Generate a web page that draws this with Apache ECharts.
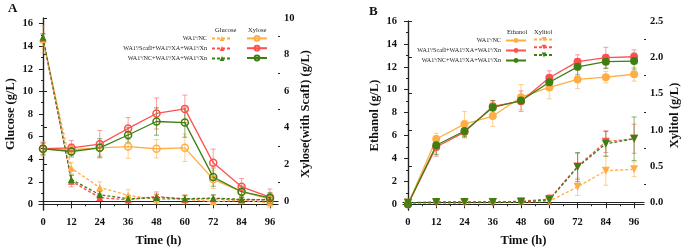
<!DOCTYPE html>
<html><head><meta charset="utf-8">
<script src="https://cdn.jsdelivr.net/npm/echarts@6/dist/echarts.min.js"></script>
<style>html,body{margin:0;padding:0;background:#fff}#c{width:685px;height:252px}</style>
</head><body><div id="c"></div>
<script>
const hours = [0,12,24,36,48,60,72,84,96];
const strains = ['WA1ˢ/NC', 'WA1ˢ/ScafI+WA1ˢ/XA+WA1ˢ/Xn', 'WA1ˢ/NC+WA1ˢ/XA+WA1ˢ/Xn'];
const xTicks = [0,12,24,36,48,60,72,84,96];
const xMinor = [6,18,30,42,54,66,78,90];
const leftTicksA = [0,2,4,6,8,10,12,14,16];
const leftMinorA = [1,3,5,7,9,11,13,15];
const rightTicksA = [0,2,4,6,8,10];
const rightMinorA = [1,3,5,7,9];
const leftTicksB = [0,2,4,6,8,10,12,14,16];
const leftMinorB = [1,3,5,7,9,11,13,15];
const rightTicksB = [0,0.5,1,1.5,2,2.5];
const rightMinorB = [0.25,0.75,1.25,1.75,2.25];

// Panel A: glucose (left axis)
const gluNC   = [14.6, 3.2, 1.5, 0.8, 0.45, 0.45, 0.25, 0.35, 0.15];
const gluScaf = [14.7, 2.05, 0.6, 0.4, 0.7, 0.45, 0.5, 0.4, 0.4];
const gluNCXA = [14.8, 2.2, 0.85, 0.5, 0.6, 0.5, 0.55, 0.45, 0.4];
const gluNCErr   = [1.2, 0.5, 0.5, 0.5, 0.4, 0.4, 0.3, 0.3, 0.4];
const gluScafErr = [0.4, 0.5, 0.3, 0.3, 0.4, 0.3, 0.3, 0.2, 0.3];
const gluNCXAErr = [0.3, 0.4, 0.3, 0.3, 0.3, 0.3, 0.3, 0.2, 0.2];
// Panel A: xylose (right axis)
const xylNC   = [2.85, 2.8, 2.9, 2.97, 2.85, 2.9, 1.18, 0.5, 0.1];
const xylScaf = [2.85, 2.9, 3.1, 3.96, 4.78, 5.03, 2.08, 0.77, 0.2];
const xylNCXA = [2.85, 2.7, 2.9, 3.6, 4.34, 4.28, 1.3, 0.5, 0.16];
const xylNCErr   = [0.4, 0.3, 0.4, 0.65, 0.5, 0.75, 0.5, 0.3, 0.3];
const xylScafErr = [0.35, 0.4, 0.75, 0.6, 0.85, 0.75, 0.75, 0.45, 0.45];
const xylNCXAErr = [0.3, 0.3, 0.5, 0.4, 0.75, 0.8, 0.5, 0.3, 0.3];
// Panel B: ethanol (left axis)
const ethNC   = [0, 5.7, 7.0, 7.7, 9.35, 10.2, 10.9, 11.1, 11.35];
const ethScaf = [0, 5.0, 6.3, 8.55, 9.0, 11.05, 12.45, 12.8, 12.88];
const ethNCXA = [0, 5.15, 6.4, 8.45, 9.05, 10.65, 12.0, 12.45, 12.5];
const ethNCErr   = [0.2, 0.5, 1.1, 0.9, 1.1, 1.0, 0.8, 0.5, 0.6];
const ethScafErr = [0.1, 0.8, 0.5, 0.5, 0.9, 0.6, 0.6, 0.9, 0.6];
const ethNCXAErr = [0.1, 0.8, 0.5, 0.6, 0.3, 0.5, 0.7, 0.6, 0.7];
// Panel B: xylitol (right axis)
const xitNC   = [0, 0, 0, 0, 0.01, 0.02, 0.22, 0.44, 0.46];
const xitScaf = [0, 0, 0, 0.01, 0.02, 0.05, 0.5, 0.84, 0.88];
const xitNCXA = [0, 0.01, 0.01, 0.01, 0.01, 0.04, 0.49, 0.81, 0.88];
const xitNCErr   = [0, 0, 0, 0, 0.03, 0.05, 0.12, 0.2, 0.1];
const xitScafErr = [0, 0, 0, 0.04, 0.04, 0.06, 0.18, 0.15, 0.2];
const xitNCXAErr = [0, 0, 0, 0.02, 0.02, 0.05, 0.2, 0.17, 0.3];

const colors = ['#FFAE45', '#FF5050', '#3D7F10'];
const errColors = ['rgba(255,174,69,0.55)', 'rgba(255,80,80,0.5)', 'rgba(61,127,16,0.55)'];
const FONT = '"Liberation Serif", "DejaVu Serif", serif';

function pair(v){ return hours.map((h,i)=>[h, v[i]]); }
function errData(v,e){ return hours.map((h,i)=>[h, v[i]-e[i], v[i]+e[i]]); }

function errSeries(v, e, ci, xi, yi){
  return {
    type:'custom', xAxisIndex:xi, yAxisIndex:yi, silent:true, z:1,
    data: errData(v,e),
    renderItem: function(params, api){
      const x = api.value(0);
      const lo = api.coord([x, api.value(1)]);
      const hi = api.coord([x, api.value(2)]);
      const st = {stroke: errColors[ci], lineWidth: 1.1};
      return {type:'group', children:[
        {type:'line', shape:{x1:lo[0], y1:lo[1], x2:hi[0], y2:hi[1]}, style:st},
        {type:'line', shape:{x1:lo[0]-2.5, y1:lo[1], x2:lo[0]+2.5, y2:lo[1]}, style:st},
        {type:'line', shape:{x1:hi[0]-2.5, y1:hi[1], x2:hi[0]+2.5, y2:hi[1]}, style:st}
      ]};
    }
  };
}

function lineSeries(name, v, ci, xi, yi, kind){
  const s = {
    name, type:'line', xAxisIndex:xi, yAxisIndex:yi, data: pair(v), z:3,
    lineStyle:{color:colors[ci], width:1.3},
    itemStyle:{color:colors[ci]}, symbolSize:7
  };
  if (kind==='triUp'){ s.symbol='triangle'; s.lineStyle.type=[3,2]; s.symbolSize=7; }
  if (kind==='triDown'){ s.symbol='triangle'; s.symbolRotate=180; s.lineStyle.type=[3,2]; s.symbolSize=8; }
  if (kind==='ring'){ s.symbol='circle'; s.itemStyle={color:'rgba(255,255,255,0)', borderColor:colors[ci], borderWidth:1.5}; s.symbolSize=7; }
  if (kind==='dot'){ s.symbol='circle'; s.symbolSize=8; }
  return s;
}

const tickLabel = {fontFamily:FONT, fontWeight:'bold', fontSize:10.5, color:'#111'};
const axLine = {show:true, lineStyle:{color:'#222', width:1.2}};
const nameStyle = {fontFamily:FONT, fontWeight:'bold', fontSize:12.5, color:'#111'};

function xMain(grid, min, max){
  return {type:'value', gridIndex:grid, min, max, position:'bottom',
    axisLine:axLine, splitLine:{show:false},
    axisTick:{show:true, customValues:xTicks, length:4, lineStyle:{color:'#222'}},
    axisLabel:{show:true, customValues:xTicks, margin:7, ...tickLabel},
    name:'Time (h)', nameLocation:'middle', nameGap:24, nameTextStyle:nameStyle};
}
function xMinorAx(grid, min, max){
  return {type:'value', gridIndex:grid, min, max, position:'bottom',
    axisLine:{show:false}, splitLine:{show:false}, axisLabel:{show:false},
    axisTick:{show:true, customValues:xMinor, length:2, lineStyle:{color:'#222'}}};
}
function xTop(grid, min, max){
  return {type:'value', gridIndex:grid, min, max, position:'top',
    axisLine:axLine, splitLine:{show:false}, axisLabel:{show:false},
    axisTick:{show:true, inside:true, customValues:xTicks, length:4, lineStyle:{color:'#222'}}};
}
function yMain(grid, min, max, pos, ticks, name, gap, fmt){
  return {type:'value', gridIndex:grid, min, max, position:pos,
    axisLine:axLine, splitLine:{show:false},
    axisTick:{show:true, customValues:ticks, length:4, lineStyle:{color:'#222'}},
    axisLabel:{show:true, customValues:ticks, margin:6, ...tickLabel, formatter:fmt},
    name, nameLocation:'middle', nameGap:gap, nameRotate:90, nameTextStyle:nameStyle};
}
function yMinorAx(grid, min, max, pos, ticks){
  return {type:'value', gridIndex:grid, min, max, position:pos,
    axisLine:{show:false}, splitLine:{show:false}, axisLabel:{show:false},
    axisTick:{show:true, customValues:ticks, length:2, lineStyle:{color:'#222'}}};
}

const nmA = ['gNC','gScaf','gNCXA'];
const nmAx = ['xNC','xScaf','xNCXA'];
const nmB = ['eNC','eScaf','eNCXA'];
const nmBx = ['tNC','tScaf','tNCXA'];
const labelMap = {};
[nmA, nmB].forEach(arr=>arr.forEach((n,i)=>labelMap[n]=strains[i]));

const legendText = {fontFamily:FONT, fontSize:6.2, color:'#222', lineHeight:7};
const legBase = {orient:'vertical', itemWidth:20, itemHeight:6, itemGap:3, selectedMode:false, textStyle:legendText, padding:0};

const option = {
  animation:false,
  backgroundColor:'#fff',
  grid:[
    {left:39, top:18, width:239, height:194},
    {left:403, top:21, width:241, height:192}
  ],
  xAxis:[
    xMain(0,-1.7,99.4), xMinorAx(0,-1.7,99.4), xTop(0,-1.7,99.4),
    xMain(1,-2.12,100.2), xMinorAx(1,-2.12,100.2), xTop(1,-2.12,100.2)
  ],
  yAxis:[
    yMain(0,-0.5,16.5,'left',leftTicksA,'Glucose (g/L)',22),
    yMinorAx(0,-0.5,16.5,'left',leftMinorA),
    yMain(0,-0.5,10,'right',rightTicksA,'Xylose(with ScafI) (g/L)',21),
    yMinorAx(0,-0.5,10,'right',rightMinorA),
    yMain(1,-0.5,16,'left',leftTicksB,'Ethanol (g/L)',22),
    yMinorAx(1,-0.5,16,'left',leftMinorB),
    yMain(1,-0.1,2.5,'right',rightTicksB,'Xylitol (g/L)',24, v=>v.toFixed(1)),
    yMinorAx(1,-0.1,2.5,'right',rightMinorB)
  ],
  legend:[
    {...legBase, data:nmA, align:'right', right:452, top:35, formatter:n=>labelMap[n]},
    {...legBase, data:nmAx, left:246, top:35, formatter:()=>''},
    {...legBase, data:nmB, align:'right', right:158, top:37, formatter:n=>labelMap[n]},
    {...legBase, data:nmBx, left:533, top:37, formatter:()=>''}
  ],
  graphic:[
    {type:'text', left:8, top:2, style:{text:'A', font:'bold 13px '+FONT, fill:'#111'}},
    {type:'text', left:369, top:5, style:{text:'B', font:'bold 13px '+FONT, fill:'#111'}},
    {type:'text', left:215, top:27, style:{text:'Glucose', font:'6.5px '+FONT, fill:'#222'}},
    {type:'text', left:248, top:27, style:{text:'Xylose', font:'6.5px '+FONT, fill:'#222'}},
    {type:'text', left:507, top:29, style:{text:'Ethanol', font:'6.5px '+FONT, fill:'#222'}},
    {type:'text', left:534, top:29, style:{text:'Xylitol', font:'6.5px '+FONT, fill:'#222'}}
  ],
  series:[
    errSeries(gluNC,gluNCErr,0,0,0), errSeries(gluScaf,gluScafErr,1,0,0), errSeries(gluNCXA,gluNCXAErr,2,0,0),
    errSeries(xylNC,xylNCErr,0,0,2), errSeries(xylScaf,xylScafErr,1,0,2), errSeries(xylNCXA,xylNCXAErr,2,0,2),
    lineSeries(nmA[0],gluNC,0,0,0,'triUp'), lineSeries(nmA[1],gluScaf,1,0,0,'triUp'), lineSeries(nmA[2],gluNCXA,2,0,0,'triUp'),
    lineSeries(nmAx[0],xylNC,0,0,2,'ring'), lineSeries(nmAx[1],xylScaf,1,0,2,'ring'), lineSeries(nmAx[2],xylNCXA,2,0,2,'ring'),
    errSeries(ethNC,ethNCErr,0,3,4), errSeries(ethScaf,ethScafErr,1,3,4), errSeries(ethNCXA,ethNCXAErr,2,3,4),
    errSeries(xitNC,xitNCErr,0,3,6), errSeries(xitScaf,xitScafErr,1,3,6), errSeries(xitNCXA,xitNCXAErr,2,3,6),
    lineSeries(nmB[0],ethNC,0,3,4,'dot'), lineSeries(nmB[1],ethScaf,1,3,4,'dot'), lineSeries(nmB[2],ethNCXA,2,3,4,'dot'),
    lineSeries(nmBx[0],xitNC,0,3,6,'triDown'), lineSeries(nmBx[1],xitScaf,1,3,6,'triDown'), lineSeries(nmBx[2],xitNCXA,2,3,6,'triDown')
  ]
};
const chart = echarts.init(document.getElementById('c'), null, {renderer:'canvas'});
chart.setOption(option);
</script></body></html>
